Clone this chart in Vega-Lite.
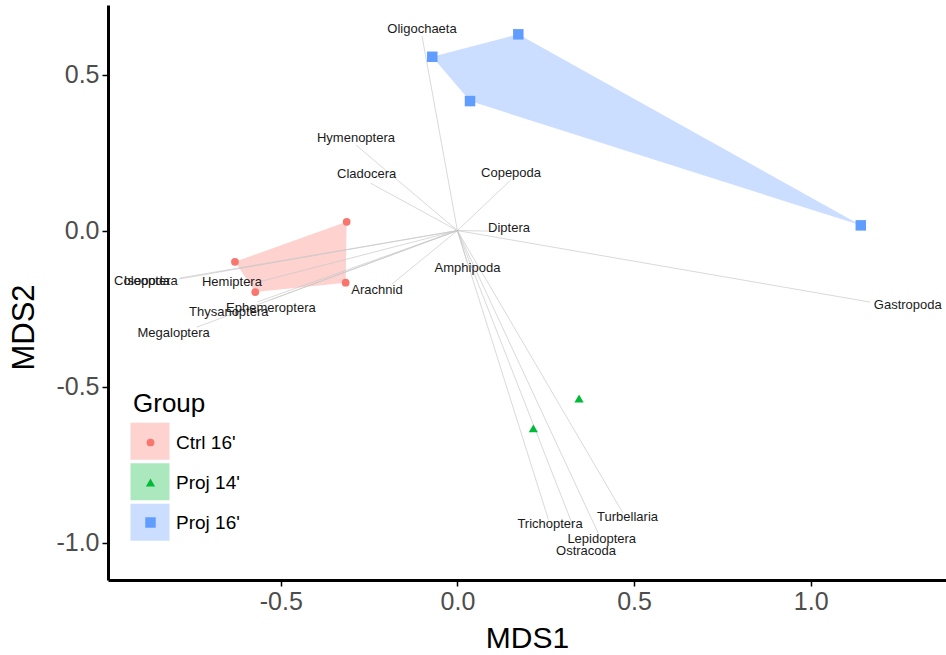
{
  "$schema": "https://vega.github.io/schema/vega-lite/v6.json",
  "width": 838,
  "height": 575,
  "autosize": {"type": "none"},
  "padding": {"left": 108, "top": 5, "right": 0, "bottom": 75},
  "background": "white",
  "config": {"view": {"stroke": null}, "font": "Liberation Sans", "axis": {"grid": false}},
  "datasets": {
    "sites": [
      {"group": "Ctrl 16'", "MDS1": -0.3134, "MDS2": 0.0282, "hull": 1},
      {"group": "Ctrl 16'", "MDS1": -0.6297, "MDS2": -0.100, "hull": 2},
      {"group": "Ctrl 16'", "MDS1": -0.5722, "MDS2": -0.197, "hull": 3},
      {"group": "Ctrl 16'", "MDS1": -0.3163, "MDS2": -0.167, "hull": 4},
      {"group": "Proj 14'", "MDS1": 0.3443, "MDS2": -0.538, "hull": 1},
      {"group": "Proj 14'", "MDS1": 0.2149, "MDS2": -0.634, "hull": 2},
      {"group": "Proj 16'", "MDS1": -0.0711, "MDS2": 0.557, "hull": 1},
      {"group": "Proj 16'", "MDS1": 0.1724, "MDS2": 0.629, "hull": 2},
      {"group": "Proj 16'", "MDS1": 1.1418, "MDS2": 0.0167, "hull": 3},
      {"group": "Proj 16'", "MDS1": 0.0357, "MDS2": 0.415, "hull": 4}
    ],
    "species": [
      {"name": "Oligochaeta", "tx": -0.1002, "ty": 0.6234, "lx": -0.1002, "ly": 0.6458},
      {"name": "Hymenoptera", "tx": -0.2871, "ty": 0.274, "lx": -0.2871, "ly": 0.2965},
      {"name": "Cladocera", "tx": -0.246, "ty": 0.152, "lx": -0.2568, "ly": 0.181},
      {"name": "Copepoda", "tx": 0.1509, "ty": 0.1619, "lx": 0.1518, "ly": 0.1843},
      {"name": "Diptera", "tx": 0.0866, "ty": -0.0016, "lx": 0.1461, "ly": 0.008},
      {"name": "Gastropoda", "tx": 1.1682, "ty": -0.2292, "lx": 1.2749, "ly": -0.2388},
      {"name": "Amphipoda", "tx": 0.0272, "ty": -0.101, "lx": 0.0286, "ly": -0.1202},
      {"name": "Arachnid", "tx": -0.1852, "ty": -0.1715, "lx": -0.2276, "ly": -0.1907},
      {"name": "Hemiptera", "tx": -0.5532, "ty": -0.1619, "lx": -0.6382, "ly": -0.1651},
      {"name": "Coleoptera", "tx": -0.7854, "ty": -0.1522, "lx": -0.8817, "ly": -0.1619},
      {"name": "Isopoda", "tx": -0.7882, "ty": -0.1554, "lx": -0.8788, "ly": -0.1619},
      {"name": "Ephemeroptera", "tx": -0.5306, "ty": -0.2228, "lx": -0.5278, "ly": -0.2474},
      {"name": "Thysanoptera", "tx": -0.5674, "ty": -0.2292, "lx": -0.6472, "ly": -0.2603},
      {"name": "Megaloptera", "tx": -0.7373, "ty": -0.3093, "lx": -0.8032, "ly": -0.3285},
      {"name": "Trichoptera", "tx": 0.2574, "ty": -0.9256, "lx": 0.2622, "ly": -0.9417},
      {"name": "Ostracoda", "tx": 0.3281, "ty": -0.9494, "lx": 0.3641, "ly": -1.0272},
      {"name": "Lepidoptera", "tx": 0.3989, "ty": -0.9705, "lx": 0.4085, "ly": -0.9897},
      {"name": "Turbellaria", "tx": 0.468, "ty": -0.9045, "lx": 0.4816, "ly": -0.9192}
    ]
  },
  "layer": [
    {
      "data": {"name": "sites"},
      "transform": [{"filter": {"field": "group", "oneOf": ["Ctrl 16'", "Proj 16'"]}}],
      "mark": {"type": "line", "interpolate": "linear-closed", "fillOpacity": 0.33, "stroke": "transparent", "strokeWidth": 0},
      "encoding": {
        "x": {"field": "MDS1", "type": "quantitative", "title": "MDS1",
          "scale": {"domain": [-0.989, 1.383], "nice": false, "zero": false},
          "axis": {"values": [-0.5, 0, 0.5, 1], "format": ".1f", "labelExpr": "replace(datum.label, '\u2212', '-')",
            "domainColor": "black", "domainWidth": 3, "tickColor": "black", "tickWidth": 1.5, "tickSize": 6,
            "labelFontSize": 25, "labelColor": "#4d4d4d", "labelPadding": 3, "labelFont": "Liberation Sans",
            "titleFontSize": 30, "titleFontWeight": "normal", "titleColor": "black", "titlePadding": 9, "titleFont": "Liberation Sans"}},
        "y": {"field": "MDS2", "type": "quantitative", "title": "MDS2",
          "scale": {"domain": [-1.12, 0.723], "nice": false, "zero": false},
          "axis": {"values": [-1, -0.5, 0, 0.5], "format": ".1f", "labelExpr": "replace(datum.label, '\u2212', '-')",
            "domainColor": "black", "domainWidth": 3, "tickColor": "black", "tickWidth": 1.5, "tickSize": 6,
            "labelFontSize": 25, "labelColor": "#4d4d4d", "labelPadding": 3, "labelFont": "Liberation Sans",
            "titleFontSize": 31, "titleFontWeight": "normal", "titleColor": "black", "titleFont": "Liberation Sans",
            "titleX": -68, "titleY": 322}},
        "fill": {"field": "group", "type": "nominal",
          "scale": {"domain": ["Ctrl 16'", "Proj 14'", "Proj 16'"], "range": ["#F8766D", "#00BA38", "#619CFF"]},
          "legend": {"orient": "none", "legendX": 22.5, "legendY": 416.7, "title": null, "padding": 0, "zindex": 0,
            "symbolType": "M-1,-0.95L1,-0.95L1,0.95L-1,0.95Z", "symbolSize": 1521, "symbolStrokeWidth": 0, "symbolOpacity": 0.33,
            "labelExpr": "''", "labelOpacity": 0, "labelFontSize": 10, "rowPadding": 1.5}},
        "order": {"field": "hull", "type": "quantitative"}
      }
    },
    {
      "data": {"name": "species"},
      "mark": {"type": "rule", "color": "#c8c8c8", "strokeWidth": 0.7},
      "encoding": {
        "x": {"field": "tx", "type": "quantitative", "title": "MDS1"},
        "y": {"field": "ty", "type": "quantitative", "title": "MDS2"},
        "x2": {"datum": 0},
        "y2": {"datum": 0}
      }
    },
    {
      "data": {"name": "sites"},
      "mark": {"type": "point", "filled": true, "opacity": 1},
      "encoding": {
        "x": {"field": "MDS1", "type": "quantitative", "title": "MDS1"},
        "y": {"field": "MDS2", "type": "quantitative", "title": "MDS2"},
        "size": {"field": "group", "type": "nominal", "scale": {"range": [60, 110, 70]}, "legend": null},
        "color": {"field": "group", "type": "nominal",
          "scale": {"range": ["#F8766D", "#00BA38", "#619CFF"]},
          "legend": {"orient": "none", "legendX": 25, "legendY": 386, "title": "Group", "padding": 0, "zindex": 1,
            "titleFontSize": 26, "titleFontWeight": "normal", "titleColor": "black", "titleFont": "Liberation Sans", "titlePadding": 16,
            "labelFontSize": 19, "labelColor": "black", "labelFont": "Liberation Sans",
            "symbolSize": 75, "symbolOffset": 8, "labelOffset": 16, "rowPadding": 20, "symbolStrokeWidth": 0}},
        "shape": {"field": "group", "type": "nominal",
          "scale": {"range": ["circle", "triangle-up", "square"]},
          "legend": {"orient": "none", "legendX": 25, "legendY": 386, "title": "Group", "padding": 0, "zindex": 1,
            "titleFontSize": 26, "titleFontWeight": "normal", "titleColor": "black", "titleFont": "Liberation Sans", "titlePadding": 16,
            "labelFontSize": 19, "labelColor": "black", "labelFont": "Liberation Sans",
            "symbolSize": 75, "symbolOffset": 8, "labelOffset": 16, "rowPadding": 20, "symbolStrokeWidth": 0}}
      }
    },
    {
      "data": {"name": "species"},
      "mark": {"type": "text", "fontSize": 13, "font": "Liberation Sans", "color": "#1a1a1a"},
      "encoding": {
        "x": {"field": "lx", "type": "quantitative", "title": "MDS1"},
        "y": {"field": "ly", "type": "quantitative", "title": "MDS2"},
        "text": {"field": "name"}
      }
    }
  ]
}
